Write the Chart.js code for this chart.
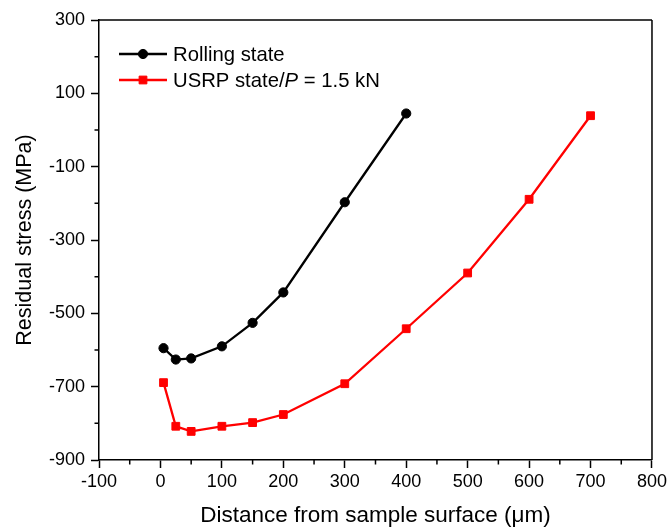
<!DOCTYPE html>
<html>
<head>
<meta charset="utf-8">
<script src="https://cdn.jsdelivr.net/npm/chart.js@4"></script>
<style>
  body { margin: 0; background: #fff; }
  canvas { display: block; }
</style>
</head>
<body>
<canvas id="chart" width="670" height="529"></canvas>
<script>
// depth (um) vs residual stress (MPa)
const depthRolling = [5, 25, 50, 100, 150, 200, 300, 400];
const stressRolling = [-595, -626, -623, -590, -526, -443, -197, 45];
const depthUsrp = [5, 25, 50, 100, 150, 200, 300, 400, 500, 600, 700];
const stressUsrp = [-689, -808, -822, -808, -798, -776, -692, -542, -390, -189, 39];

const xMinorTicks = [-50, 50, 150, 250, 350, 450, 550, 650, 750];
const yMinorTicks = [-800, -600, -400, -200, 0, 200];

const legendParts = [
    [{ text: 'Rolling state' }],
    [{ text: 'USRP state/' }, { text: 'P', italic: true }, { text: ' = 1.5 kN' }]
];

const FONT = '"Liberation Sans", Arial, sans-serif';

function toPoints(xs, ys) {
    return xs.map((x, i) => ({ x: x, y: ys[i] }));
}

// box frame + minor ticks
const framePlugin = {
    id: 'frame',
    afterDraw(chart) {
        const ctx = chart.ctx;
        const a = chart.chartArea;
        const xs = chart.scales.x, ys = chart.scales.y;
        ctx.save();
        ctx.strokeStyle = '#000';
        ctx.lineWidth = 1.5;
        ctx.beginPath();
        ctx.moveTo(a.left, a.top); ctx.lineTo(a.right, a.top);
        ctx.moveTo(a.right, a.top); ctx.lineTo(a.right, a.bottom);
        xMinorTicks.forEach(v => {
            const px = xs.getPixelForValue(v);
            ctx.moveTo(px, a.bottom); ctx.lineTo(px, a.bottom + 4.5);
        });
        yMinorTicks.forEach(v => {
            const py = ys.getPixelForValue(v);
            ctx.moveTo(a.left, py); ctx.lineTo(a.left - 4.5, py);
        });
        ctx.stroke();
        ctx.restore();
    }
};

// legend drawn inside the plot, top left
const legendPlugin = {
    id: 'insideLegend',
    afterDraw(chart) {
        const ctx = chart.ctx;
        ctx.save();
        chart.data.datasets.forEach((ds, i) => {
            const y = 54 + i * 26;
            ctx.strokeStyle = ds.borderColor;
            ctx.lineWidth = ds.borderWidth;
            ctx.beginPath();
            ctx.moveTo(119, y); ctx.lineTo(167, y);
            ctx.stroke();
            ctx.fillStyle = ds.pointBackgroundColor;
            ctx.strokeStyle = ds.borderColor;
            ctx.lineWidth = ds.pointBorderWidth;
            Chart.helpers.drawPoint(ctx, {
                pointStyle: ds.pointStyle, radius: ds.pointRadius, rotation: 0, borderWidth: 1
            }, 143, y);
            let x = 173;
            ctx.fillStyle = '#000';
            ctx.textBaseline = 'middle';
            legendParts[i].forEach(p => {
                ctx.font = (p.italic ? 'italic ' : '') + '20.3px ' + FONT;
                ctx.fillText(p.text, x, y + 1);
                x += ctx.measureText(p.text).width;
            });
        });
        ctx.restore();
    }
};

new Chart(document.getElementById('chart'), {
    type: 'line',
    data: {
        datasets: [
            {
                label: 'Rolling state',
                data: toPoints(depthRolling, stressRolling),
                borderColor: '#000',
                backgroundColor: '#000',
                pointBackgroundColor: '#000',
                borderWidth: 2.3,
                pointStyle: 'circle',
                pointRadius: 4.6,
                pointBorderWidth: 1
            },
            {
                label: 'USRP state/P = 1.5 kN',
                data: toPoints(depthUsrp, stressUsrp),
                borderColor: '#ff0000',
                backgroundColor: '#ff0000',
                pointBackgroundColor: '#ff0000',
                borderWidth: 2.3,
                pointStyle: 'rect',
                pointRadius: 5.5,
                pointBorderWidth: 1
            }
        ]
    },
    options: {
        responsive: false,
        animation: false,
        layout: { padding: { left: 0, right: 16, top: 20, bottom: 0 } },
        plugins: {
            legend: { display: false },
            tooltip: { enabled: false }
        },
        scales: {
            x: {
                type: 'linear',
                min: -100, max: 800,
                afterFit: (s) => { s.height = 69; },
                ticks: { stepSize: 100, color: '#000', padding: 3, maxRotation: 0, font: { family: FONT, size: 18 } },
                grid: { drawOnChartArea: false, tickLength: 8, tickWidth: 1.5, tickColor: '#000' },
                border: { display: true, color: '#000', width: 1.5 },
                title: {
                    display: true, text: 'Distance from sample surface (\u03bcm)', color: '#000',
                    font: { family: FONT, size: 22.5, lineHeight: 1 }, padding: { top: 0, bottom: 2 }
                }
            },
            y: {
                min: -900, max: 300,
                afterFit: (s) => { s.width = 99; },
                ticks: { stepSize: 200, color: '#000', padding: 6, font: { family: FONT, size: 18 } },
                grid: { drawOnChartArea: false, tickLength: 8, tickWidth: 1.5, tickColor: '#000' },
                border: { display: true, color: '#000', width: 1.5 },
                title: {
                    display: true, text: 'Residual stress (MPa)', color: '#000',
                    font: { family: FONT, size: 21.5, lineHeight: 1 }, padding: { top: 14, bottom: 0 }
                }
            }
        }
    },
    plugins: [framePlugin, legendPlugin]
});
</script>
</body>
</html>
